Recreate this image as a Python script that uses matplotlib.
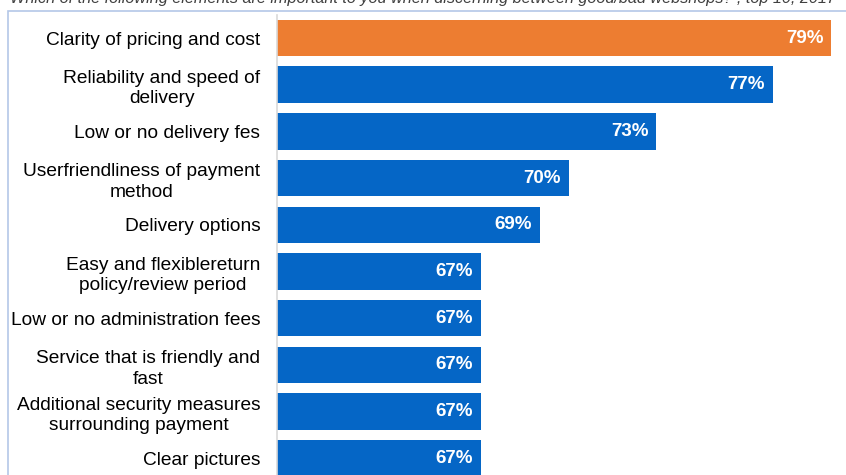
import matplotlib
matplotlib.use("Agg")
import matplotlib.pyplot as plt
from matplotlib.patches import Rectangle

categories = [
    "Clarity of pricing and cost",
    "Reliability and speed of\ndelivery",
    "Low or no delivery fes",
    "Userfriendliness of payment\nmethod",
    "Delivery options",
    "Easy and flexiblereturn\npolicy/review period",
    "Low or no administration fees",
    "Service that is friendly and\nfast",
    "Additional security measures\nsurrounding payment",
    "Clear pictures",
]
values = [79, 77, 73, 70, 69, 67, 67, 67, 67, 67]
value_labels = ["79%", "77%", "73%", "70%", "69%", "67%", "67%", "67%", "67%", "67%"]
title = "Which of the following elements are important to you when discerning between good/bad webshops? , top 10, 2017"

plt.rcParams['font.family'] = ['Liberation Sans', 'DejaVu Sans']

W, H = 846, 475
fig = plt.figure(figsize=(W / 100, H / 100), dpi=100)

# frame
fig.patches.append(Rectangle((8 / W, -0.1), 1.2, 1 - 11 / H + 0.1, transform=fig.transFigure,
                             fill=False, edgecolor="#B4C7E7", linewidth=1.2))
fig.text(10 / W, 1 - 3 / H, title, ha="left", va="baseline", fontsize=11.7,
         style="italic", color="#404040")

left = 277 / W
top_px = 14.65
bot_px = 481.7
ax = fig.add_axes([left, (H - bot_px) / H, 1 - left, (bot_px - top_px) / H])

colors = ["#ED7D31"] + ["#0566C6"] * (len(values) - 1)
y = list(range(len(values)))
xmin = 60
ax.barh(y, [v - xmin for v in values], left=xmin, height=0.78, color=colors)
ax.set_xlim(xmin, xmin + (W - 277) / 29.17)
ax.set_ylim(9.5, -0.5)

for yi, v, lab in zip(y, values, value_labels):
    ax.text(v - 0.27, yi, lab, ha="right", va="center", color="white",
            fontsize=13.5, fontweight="bold")

ax.set_yticks(y)
ax.set_yticklabels(categories, fontsize=13.8, multialignment="center", color="#000000",
                   linespacing=1.28)
ax.tick_params(axis="y", length=0, pad=12)
ax.set_xticks([])
for s in ["top", "right", "bottom"]:
    ax.spines[s].set_visible(False)
ax.spines["left"].set_color("#D9D9D9")
ax.spines["left"].set_linewidth(1.2)
ax.patch.set_alpha(0)

fig.savefig("out.png", dpi=100)
